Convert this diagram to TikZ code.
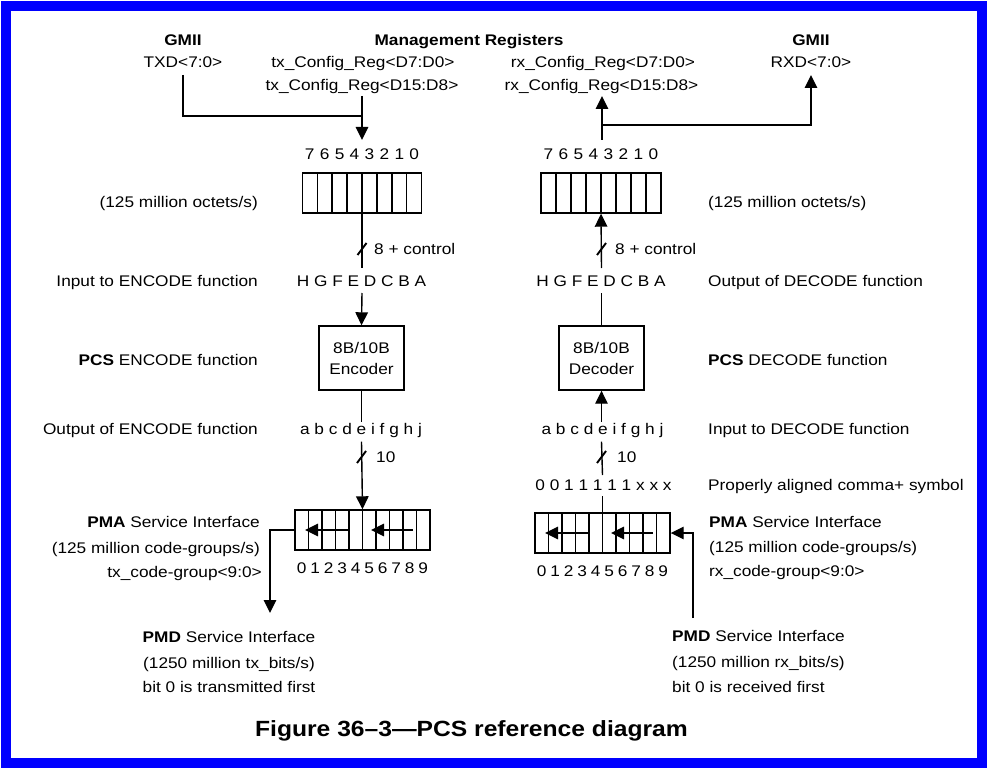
\documentclass[tikz,border=0pt]{standalone}
\usepackage{fontspec}
\setmainfont{Liberation Sans}[FakeStretch=1.12]
\usetikzlibrary{arrows.meta}
\definecolor{frameblue}{RGB}{0,0,255}
\begin{document}
\begin{tikzpicture}[x=1pt,y=-1pt,
  lw/.style={line width=1.4pt},
  txt/.style={inner sep=0pt, font=\fontsize{15.4}{18}\selectfont, anchor=base},
  txtL/.style={txt, anchor=base east},
  txtR/.style={txt, anchor=base west},
  btxt/.style={txt, font=\fontsize{15.4}{18}\selectfont\bfseries},
  reg/.style={draw, lw, inner sep=0pt, minimum height=40pt},
  fbox/.style={draw, lw, inner sep=0pt, minimum width=85pt, minimum height=64pt, align=center, font=\fontsize{15.4}{21}\selectfont},
  arr/.style={lw, -{Triangle[length=13pt,width=12.5pt]}},
  ln/.style={lw},
  slash/.style={line width=1.9pt},
]
% background and frame
\fill[white] (0,0) rectangle (988,770);
\draw[frameblue, line width=10pt] (6,6) rectangle (982,763);
\useasboundingbox (0,0) rectangle (988,770);

% ---------- top labels ----------
\node[btxt] (gmiiL) at (183,45.5) {GMII};
\node[txt] (txd) at (183,67.5) {TXD<7:0>};
\node[btxt] (mgmt) at (469,45.5) {Management Registers};
\node[txt] (txc1) at (363,67.5) {tx\_Config\_Reg<D7:D0>};
\node[txt] (txc2) at (362,90.5) {tx\_Config\_Reg<D15:D8>};
\node[txt] (rxc1) at (603,67.5) {rx\_Config\_Reg<D7:D0>};
\node[txt] (rxc2) at (601.5,90.5) {rx\_Config\_Reg<D15:D8>};
\node[btxt] (gmiiR) at (811,45.5) {GMII};
\node[txt] (rxd) at (811,67.5) {RXD<7:0>};

% ---------- 8-bit registers ----------
\node[reg, minimum width=119.4pt] (r8L) at (362,193) {};
\node[reg, minimum width=120pt] (r8R) at (601,193) {};
\foreach \i [evaluate=\i as \xl using 302.3+14.925*\i, evaluate=\i as \xr using 541+15*\i] in {1,...,7} {
  \draw[lw] (\xl,173) -- (\xl,213);
  \draw[lw] (\xr,173) -- (\xr,213);
}
\foreach \d [count=\i from 0, evaluate=\i as \xl using 302.3+14.925*(\i+0.5), evaluate=\i as \xr using 541+15*(\i+0.5)] in {7,6,5,4,3,2,1,0} {
  \node[txt] at (\xl,159.5) {\d};
  \node[txt] at (\xr,159.5) {\d};
}
\node[txtL] (octL) at (258,207.5) {(125 million octets/s)};
\node[txtR] (octR) at (708,207.5) {(125 million octets/s)};

% top connectors
\coordinate (txdB) at (183,75);
\coordinate (joinL) at (362,116);
\coordinate (txcB) at (362,96);
\coordinate (tipL) at (362,140);
\draw[ln] (txdB) |- (joinL);
\draw[arr] (txcB) -- (tipL);
\coordinate (startR) at (602,140);
\coordinate (rxcB) at (602,96);
\coordinate (joinR) at (602,125);
\coordinate (rxdB) at (811,75);
\draw[arr] (startR) -- (rxcB);
\draw[arr] (joinR) -| (rxdB);

% ---------- 8 + control ----------
\node[txt] (hgL) at (361.5,286.5) {H G F E D C B A};
\node[txt] (hgR) at (601,286.5) {H G F E D C B A};
\coordinate (hgLt) at (362,268);
\coordinate (hgLb) at (362,293);
\coordinate (hgRt) at (601.5,268);
\coordinate (hgRb) at (601.5,293);
\draw[ln] (r8L.south) -- (hgLt);
\draw[arr] (hgRt) -- (r8R.south);
\draw[slash] (357.5,255) -- (366.5,243);
\draw[slash] (597,255) -- (606,243);
\node[txtR] (ctlL) at (374,254.5) {8 + control};
\node[txtR] (ctlR) at (615,254.5) {8 + control};
\node[txtL] (inEnc) at (258,286.5) {Input to ENCODE function};
\node[txtR] (outDec) at (708,286.5) {Output of DECODE function};

% ---------- encoder / decoder ----------
\node[fbox] (enc) at (361.5,358) {8B/10B\\Encoder};
\node[fbox] (dec) at (601.5,358) {8B/10B\\Decoder};
\draw[arr] (hgLb) -- (enc.north);
\draw[ln] (dec.north) -- (hgRb);
\node[txtL] (pcsE) at (258,365) {\textbf{PCS} ENCODE function};
\node[txtR] (pcsD) at (708,365) {\textbf{PCS} DECODE function};

% ---------- 10-bit side ----------
\node[txt] (abL) at (361,434.3) {a b c d e i f g h j};
\node[txt] (abR) at (602.5,434.3) {a b c d e i f g h j};
\coordinate (abLt) at (361.5,421.7);
\coordinate (abLb) at (361.5,441.7);
\coordinate (abRt) at (601.5,421.7);
\coordinate (abRb) at (601.5,441.7);
\draw[ln] (enc.south) -- (abLt);
\draw[arr] (abRt) -- (dec.south);
\node[txtL] (outEnc) at (258,434.5) {Output of ENCODE function};
\node[txtR] (inDec) at (708,434.5) {Input to DECODE function};

\draw[slash] (357,463) -- (366,451);
\draw[slash] (597,463) -- (606,451);
\node[txtR] (tenL) at (376,462.5) {10};
\node[txtR] (tenR) at (617,462.5) {10};

\node[txt] (comma) at (603.5,490.5) {0 0 1 1 1 1 1 x x x};
\node[txtR] (commaT) at (708,490.5) {Properly aligned comma+ symbol};
\coordinate (cmT) at (602.5,475);
\coordinate (cmB) at (602.5,496);
\draw[ln] (cmT) -- (abRb);

% 10-bit registers
\node[reg, minimum width=135pt] (r10L) at (362.5,530) {};
\node[reg, minimum width=135pt] (r10R) at (602.5,533) {};
\foreach \i [evaluate=\i as \xl using 295+13.5*\i, evaluate=\i as \xr using 535+13.5*\i] in {1,...,9} {
  \draw[lw] (\xl,510) -- (\xl,550);
  \draw[lw] (\xr,513) -- (\xr,553);
}
\foreach \d [evaluate=\d as \xl using 295+13.5*(\d+0.5), evaluate=\d as \xr using 535+13.5*(\d+0.5)] in {0,...,9} {
  \node[txt] at (\xl,573.8) {\d};
  \node[txt] at (\xr,576.2) {\d};
}
\draw[arr] (abLb) -- (r10L.north);
\draw[ln] (cmB) -- (r10R.north);
% inner shift arrows
\draw[arr] (347.5,530) -- (305,530);
\draw[arr] (413,530) -- (371,530);
\draw[arr] (587.5,533) -- (545,533);
\draw[arr] (653,533) -- (611,533);

% PMA labels
\node[txtL] (pmaL1) at (260,527) {\textbf{PMA} Service Interface};
\node[txtL] (pmaL2) at (260,553.8) {(125 million code-groups/s)};
\node[txtL] (pmaL3) at (262,577.2) {tx\_code-group<9:0>};
\node[txtR] (pmaR1) at (709,527.8) {\textbf{PMA} Service Interface};
\node[txtR] (pmaR2) at (709,552.2) {(125 million code-groups/s)};
\node[txtR] (pmaR3) at (709,576.2) {rx\_code-group<9:0>};

% PMD connectors
\coordinate (pmdLtip) at (270,613);
\draw[arr] (r10L.west) -| (pmdLtip);
\coordinate (pmdRstart) at (693,618);
\draw[arr] (pmdRstart) |- (r10R.east);

% PMD labels
\node[txt] (pmdL1) at (229,642.2) {\textbf{PMD} Service Interface};
\node[txt] (pmdL2) at (229,668.2) {(1250 million tx\_bits/s)};
\node[txt] (pmdL3) at (229,692.2) {bit 0 is transmitted first};
\node[txtR] (pmdR1) at (672,641.5) {\textbf{PMD} Service Interface};
\node[txtR] (pmdR2) at (672,667.2) {(1250 million rx\_bits/s)};
\node[txtR] (pmdR3) at (672,692.2) {bit 0 is received first};

% title
\node[txt, font=\fontsize{22}{26}\selectfont\bfseries] (title) at (471.5,736) {Figure 36–3—PCS reference diagram};
\end{tikzpicture}
\end{document}
